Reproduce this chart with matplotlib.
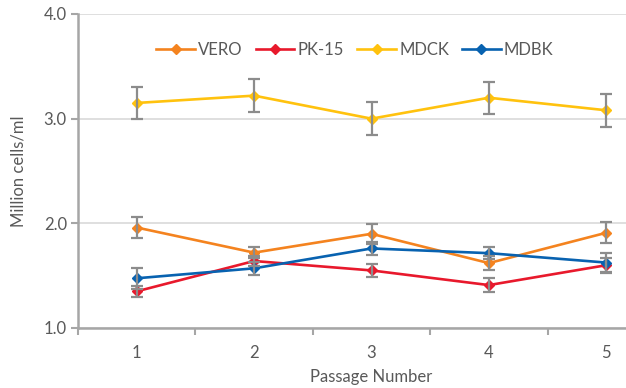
import matplotlib.pyplot as plt
import numpy as np

passages = [1, 2, 3, 4, 5]

vero = [1.96, 1.72, 1.90, 1.62, 1.91]
vero_err = [0.10, 0.05, 0.095, 0.065, 0.10]
pk15 = [1.35, 1.64, 1.55, 1.41, 1.60]
pk15_err = [0.05, 0.05, 0.06, 0.065, 0.07]
mdck = [3.15, 3.22, 3.00, 3.20, 3.08]
mdck_err = [0.155, 0.155, 0.16, 0.155, 0.155]
mdbk = [1.475, 1.57, 1.76, 1.715, 1.625]
mdbk_err = [0.10, 0.06, 0.06, 0.06, 0.09]

series = [
    ("VERO", vero, vero_err, "#F4831F"),
    ("PK-15", pk15, pk15_err, "#E8192C"),
    ("MDCK", mdck, mdck_err, "#FFC20E"),
    ("MDBK", mdbk, mdbk_err, "#0862B0"),
]

plt.rcParams['font.family'] = ['Lato', 'DejaVu Sans']
text_col = "#595959"
fs = 12

fig = plt.figure(figsize=(6.26, 3.88), dpi=100)
# axis runs past the right edge of the picture (cropped like the original)
ax = fig.add_axes([78 / 626, 60 / 388, 587 / 626, 314 / 388])

x = np.array(passages)
for name, vals, err, col in series:
    ax.plot(x, vals, color=col, lw=1.9, marker="D", ms=5.5, label=name, zorder=3)
    ax.errorbar(x, vals, yerr=err, fmt="none", ecolor="#8C8C8C", elinewidth=1.6,
                capsize=4, capthick=1.6, zorder=4)

ax.set_xlim(0.5, 5.5)
ax.set_ylim(1.0, 4.0)
ax.set_yticks([1.0, 2.0, 3.0, 4.0])
ax.set_yticklabels(["1.0", "2.0", "3.0", "4.0"])
ax.set_xticks(passages)
ax.set_xticks(np.arange(0.5, 6.0, 1.0), minor=True)
ax.tick_params(axis="x", which="major", length=0, pad=12, labelsize=fs, labelcolor=text_col)
ax.tick_params(axis="x", which="minor", length=5, width=1.5, color="#A6A6A6", direction="out")
ax.tick_params(axis="y", length=5, width=1.5, color="#A6A6A6", labelsize=fs,
               labelcolor=text_col, pad=3)
ax.grid(axis="y", color="#D9D9D9", lw=1.2)
ax.set_axisbelow(True)
for s in ["top", "right"]:
    ax.spines[s].set_visible(False)
for s in ["left", "bottom"]:
    ax.spines[s].set_color("#A6A6A6")
    ax.spines[s].set_linewidth(1.8)

fig.text(19 / 626, 1 - 171 / 388, "Million cells/ml", rotation=90, ha="center", va="center",
         fontsize=fs, color=text_col)
fig.text(371 / 626, 1 - 377 / 388, "Passage Number", ha="center", va="center",
         fontsize=fs, color=text_col)

fig.legend(loc="center", bbox_to_anchor=(355 / 626, 1 - 50 / 388), ncol=4, frameon=False,
           handlelength=2.3, columnspacing=0.8, handletextpad=0.2, fontsize=fs,
           labelcolor=text_col, markerscale=0.9)

fig.savefig("out.png", dpi=100)
